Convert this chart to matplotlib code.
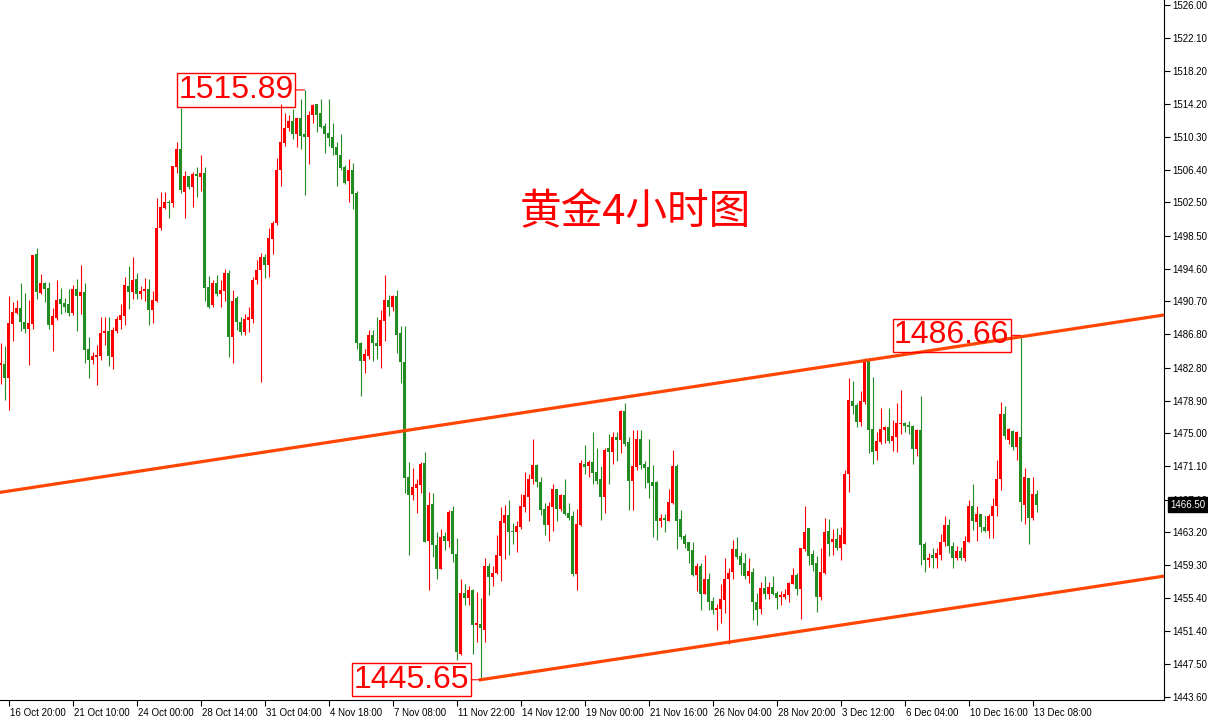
import numpy as np
import matplotlib
matplotlib.use("Agg")
import matplotlib.pyplot as plt
import matplotlib.transforms as mtransforms

# 黄金 4H K线 (红涨绿跌)
opens = [
    1483.1, 1483.2, 1481.6, 1488.0, 1489.3, 1489.9, 1488.2, 1487.4, 1488.0, 1496.3,
    1491.7, 1492.9, 1492.3, 1487.9, 1488.7, 1491.0, 1490.5, 1490.4, 1489.3, 1492.2,
    1491.3, 1491.8, 1485.0, 1483.7, 1484.1, 1484.2, 1487.0, 1487.2, 1484.1, 1487.2,
    1488.5, 1489.0, 1492.5, 1491.8, 1493.4, 1491.6, 1491.9, 1492.2, 1489.7, 1490.7,
    1499.4, 1501.8, 1502.6, 1502.4, 1506.7, 1508.8, 1503.7, 1505.6, 1504.3, 1505.9,
    1505.5, 1506.0, 1492.4, 1490.3, 1492.9, 1491.6, 1492.0, 1494.1, 1486.5, 1491.1,
    1488.3, 1487.1, 1488.5, 1488.6, 1493.2, 1494.4, 1496.0, 1495.0, 1498.1, 1500.0,
    1506.3, 1509.6, 1511.3, 1512.2, 1510.6, 1512.5, 1510.6, 1510.3, 1512.9, 1514.2,
    1513.1, 1511.6, 1510.8, 1510.3, 1509.1, 1508.2, 1506.7, 1505.0, 1506.4, 1503.6,
    1485.8, 1483.6, 1484.2, 1486.7, 1485.8, 1485.4, 1488.4, 1490.9, 1490.1, 1491.3,
    1486.9, 1483.5, 1469.8, 1467.6, 1468.5, 1468.9, 1471.5, 1462.2, 1466.6, 1461.7,
    1458.8, 1462.8, 1462.2, 1465.8, 1460.6, 1448.7, 1456.0, 1455.4, 1456.3, 1452.2,
    1452.3, 1451.6, 1459.2, 1457.9, 1458.4, 1460.4, 1464.3, 1465.3, 1463.4, 1463.3,
    1463.9, 1466.2, 1467.4, 1469.6, 1471.2, 1469.2, 1466.0, 1464.1, 1466.2, 1468.4,
    1466.0, 1467.7, 1465.5, 1465.2, 1458.3, 1464.1, 1471.4, 1471.1, 1471.6, 1470.4,
    1469.5, 1467.4, 1473.2, 1472.8, 1474.5, 1474.2, 1477.6, 1474.0, 1469.3, 1471.0,
    1474.3, 1471.4, 1471.0, 1469.2, 1469.2, 1464.5, 1464.9, 1464.6, 1466.7, 1471.1,
    1464.8, 1462.8, 1462.0, 1461.1, 1458.1, 1459.2, 1455.9, 1457.6, 1455.0, 1453.9,
    1454.1, 1455.2, 1457.6, 1458.5, 1461.2, 1460.4, 1459.5, 1458.0, 1458.5, 1454.9,
    1454.1, 1456.6, 1455.9, 1456.7, 1456.0, 1455.5, 1455.5, 1455.8, 1457.1, 1458.1,
    1456.4, 1461.2, 1463.7, 1460.6, 1459.5, 1455.5, 1458.4, 1463.4, 1462.0, 1462.4,
    1461.4, 1461.8, 1470.2, 1478.9, 1478.4, 1476.4, 1478.7, 1483.7, 1475.5, 1472.9,
    1474.0, 1475.4, 1475.8, 1474.1, 1474.6, 1476.1, 1476.2, 1476.0, 1475.9, 1473.1,
    1475.4, 1461.8, 1459.9, 1460.5, 1460.2, 1460.5, 1462.1, 1464.1, 1461.6, 1460.1,
    1461.0, 1460.1, 1462.1, 1466.4, 1464.4, 1465.4, 1463.9, 1463.4, 1465.1, 1466.3,
    1469.5, 1477.3, 1474.2, 1475.3, 1473.4, 1474.6, 1466.5, 1469.7, 1464.9, 1467.8,
]
highs = [
    1485.7, 1485.4, 1491.4, 1490.6, 1490.9, 1492.9, 1491.7, 1490.9, 1496.2, 1497.1,
    1494.0, 1493.0, 1493.0, 1489.9, 1493.2, 1492.3, 1491.1, 1492.2, 1492.7, 1493.4,
    1495.0, 1492.9, 1486.5, 1484.7, 1485.5, 1488.8, 1488.8, 1488.8, 1487.7, 1489.0,
    1490.4, 1493.6, 1494.9, 1496.0, 1494.1, 1492.5, 1493.5, 1493.4, 1491.9, 1503.0,
    1503.7, 1503.7, 1502.8, 1506.8, 1509.7, 1513.7, 1506.2, 1505.7, 1506.1, 1506.7,
    1508.1, 1506.7, 1493.7, 1493.3, 1493.9, 1493.3, 1494.6, 1494.5, 1492.1, 1491.4,
    1488.9, 1489.2, 1490.0, 1493.6, 1495.6, 1496.5, 1496.4, 1499.5, 1500.3, 1507.8,
    1514.2, 1513.2, 1512.9, 1513.6, 1512.5, 1514.8, 1515.89, 1513.4, 1514.2, 1514.2,
    1514.8, 1512.0, 1514.8, 1512.0, 1509.7, 1510.7, 1507.0, 1507.7, 1507.2, 1503.8,
    1485.9, 1485.0, 1487.3, 1487.3, 1488.8, 1489.7, 1493.9, 1491.5, 1491.5, 1492.1,
    1487.8, 1487.8, 1471.6, 1470.9, 1469.5, 1471.6, 1472.8, 1468.0, 1467.9, 1463.2,
    1463.6, 1463.3, 1465.9, 1466.4, 1462.5, 1457.6, 1457.1, 1456.8, 1456.4, 1456.1,
    1455.4, 1460.2, 1459.5, 1459.2, 1462.9, 1466.2, 1466.5, 1467.0, 1464.3, 1464.6,
    1467.8, 1470.4, 1470.2, 1474.3, 1471.4, 1469.8, 1466.7, 1466.8, 1469.0, 1468.4,
    1467.8, 1469.5, 1466.7, 1465.8, 1466.0, 1471.8, 1473.6, 1471.8, 1475.2, 1473.2,
    1471.1, 1473.2, 1474.9, 1475.1, 1475.2, 1477.8, 1478.6, 1474.5, 1475.4, 1475.4,
    1475.4, 1471.7, 1474.3, 1471.2, 1469.3, 1465.4, 1465.4, 1468.4, 1473.0, 1471.4,
    1465.9, 1463.0, 1462.0, 1462.0, 1459.6, 1459.5, 1460.5, 1458.4, 1455.5, 1454.7,
    1457.0, 1460.1, 1458.9, 1462.3, 1462.7, 1460.9, 1460.8, 1460.2, 1458.9, 1456.0,
    1457.3, 1458.0, 1457.3, 1458.0, 1456.2, 1456.2, 1456.4, 1457.3, 1459.0, 1458.4,
    1461.4, 1466.4, 1463.7, 1461.1, 1460.4, 1461.4, 1464.9, 1464.8, 1463.6, 1463.7,
    1463.9, 1470.6, 1481.6, 1481.2, 1478.6, 1480.0, 1484.0, 1484.0, 1481.7, 1475.2,
    1478.0, 1475.9, 1478.0, 1476.6, 1478.6, 1480.2, 1476.4, 1476.5, 1476.0, 1475.5,
    1479.5, 1462.0, 1460.7, 1461.3, 1461.3, 1463.0, 1465.2, 1464.8, 1462.0, 1461.6,
    1461.5, 1462.8, 1467.1, 1469.0, 1466.4, 1465.4, 1465.1, 1465.4, 1467.3, 1471.8,
    1478.7, 1478.3, 1475.6, 1475.4, 1475.3, 1486.66, 1470.9, 1469.7, 1469.8, 1468.3,
]
lows = [
    1480.9, 1479.0, 1477.8, 1486.0, 1489.2, 1487.2, 1486.9, 1483.1, 1487.4, 1491.0,
    1491.6, 1490.6, 1487.4, 1484.8, 1488.5, 1489.2, 1489.4, 1489.0, 1489.1, 1487.2,
    1489.2, 1483.4, 1481.6, 1483.2, 1480.7, 1483.7, 1485.5, 1483.0, 1482.6, 1486.9,
    1487.4, 1487.9, 1489.8, 1491.0, 1491.0, 1491.0, 1490.7, 1487.9, 1488.1, 1490.6,
    1499.2, 1501.7, 1500.6, 1502.0, 1506.0, 1503.6, 1500.6, 1504.1, 1501.9, 1503.1,
    1503.8, 1490.7, 1489.9, 1490.0, 1491.3, 1490.1, 1490.8, 1484.1, 1483.4, 1487.3,
    1486.7, 1486.7, 1487.1, 1488.1, 1492.8, 1481.1, 1493.5, 1493.6, 1496.3, 1499.8,
    1504.5, 1509.2, 1511.0, 1510.1, 1509.1, 1508.8, 1503.4, 1507.1, 1512.0, 1510.9,
    1511.3, 1508.4, 1509.2, 1508.1, 1504.5, 1506.4, 1504.7, 1502.5, 1501.7, 1485.0,
    1479.4, 1482.2, 1483.8, 1483.6, 1483.9, 1482.8, 1486.0, 1489.0, 1489.6, 1484.6,
    1481.0, 1467.9, 1460.5, 1467.0, 1465.5, 1467.9, 1462.1, 1456.3, 1460.3, 1457.7,
    1458.8, 1461.1, 1461.5, 1459.7, 1448.0, 1448.6, 1454.5, 1454.6, 1448.7, 1450.2,
    1445.65, 1450.2, 1455.8, 1456.8, 1458.3, 1457.4, 1460.0, 1460.5, 1461.8, 1460.9,
    1463.6, 1465.6, 1464.6, 1469.0, 1468.6, 1465.3, 1462.9, 1462.2, 1463.4, 1464.6,
    1465.8, 1465.3, 1464.7, 1458.0, 1456.3, 1464.0, 1470.2, 1469.8, 1469.0, 1469.0,
    1464.7, 1465.5, 1469.0, 1471.4, 1471.7, 1472.6, 1473.5, 1465.9, 1465.9, 1470.6,
    1470.8, 1468.5, 1467.3, 1462.7, 1462.3, 1463.9, 1463.3, 1464.5, 1466.6, 1461.2,
    1462.4, 1461.4, 1459.5, 1458.0, 1456.2, 1453.9, 1455.9, 1453.9, 1453.5, 1451.6,
    1452.4, 1453.6, 1449.9, 1457.7, 1460.0, 1458.1, 1457.7, 1457.2, 1452.8, 1452.2,
    1453.5, 1455.3, 1455.3, 1455.8, 1454.1, 1454.6, 1455.3, 1454.9, 1457.0, 1455.8,
    1452.9, 1461.0, 1459.3, 1458.6, 1453.7, 1455.2, 1458.3, 1460.4, 1460.5, 1461.1,
    1459.9, 1461.8, 1468.0, 1477.3, 1475.8, 1475.9, 1478.5, 1472.7, 1471.4, 1471.8,
    1473.7, 1473.9, 1473.9, 1472.9, 1472.8, 1474.9, 1475.2, 1474.9, 1471.4, 1472.3,
    1459.3, 1458.5, 1459.1, 1458.9, 1458.9, 1459.9, 1461.6, 1460.8, 1459.0, 1459.9,
    1459.9, 1459.8, 1462.0, 1463.5, 1462.2, 1463.2, 1463.3, 1462.5, 1462.5, 1465.1,
    1468.3, 1474.3, 1473.7, 1473.0, 1471.8, 1464.6, 1464.2, 1461.8, 1464.7, 1465.6,
]
closes = [
    1483.4, 1481.6, 1488.1, 1489.4, 1489.9, 1488.2, 1487.4, 1488.1, 1496.2, 1491.8,
    1492.9, 1492.2, 1487.9, 1489.0, 1490.9, 1490.4, 1490.1, 1489.3, 1492.2, 1491.3,
    1491.8, 1484.9, 1483.7, 1484.2, 1484.3, 1487.0, 1487.2, 1484.2, 1487.3, 1488.6,
    1489.1, 1492.7, 1491.8, 1493.2, 1491.6, 1492.0, 1492.2, 1489.7, 1490.9, 1499.5,
    1501.9, 1502.6, 1502.4, 1506.8, 1508.8, 1504.0, 1505.6, 1504.3, 1505.9, 1505.6,
    1506.0, 1492.3, 1490.1, 1492.9, 1491.6, 1492.1, 1494.1, 1486.5, 1490.8, 1488.2,
    1487.1, 1488.6, 1488.8, 1493.3, 1494.5, 1496.0, 1495.0, 1498.2, 1500.1, 1506.4,
    1509.7, 1511.3, 1512.2, 1510.6, 1512.5, 1510.4, 1510.3, 1512.9, 1514.1, 1512.9,
    1511.5, 1510.7, 1510.2, 1509.0, 1508.1, 1506.6, 1504.8, 1506.4, 1503.5, 1485.7,
    1483.6, 1484.4, 1486.7, 1485.8, 1485.4, 1488.5, 1490.9, 1490.1, 1491.3, 1486.7,
    1483.5, 1469.7, 1467.6, 1468.6, 1469.0, 1471.4, 1462.1, 1466.5, 1461.7, 1458.8,
    1462.7, 1462.2, 1465.6, 1460.6, 1448.9, 1456.0, 1455.4, 1456.3, 1452.2, 1452.4,
    1451.8, 1459.2, 1457.9, 1458.4, 1460.5, 1464.5, 1465.3, 1463.3, 1463.3, 1464.0,
    1466.4, 1467.6, 1469.5, 1471.2, 1469.2, 1465.9, 1464.1, 1466.4, 1468.4, 1466.0,
    1467.7, 1465.4, 1464.9, 1458.3, 1464.2, 1471.5, 1471.0, 1471.6, 1470.3, 1469.3,
    1467.4, 1473.0, 1472.8, 1474.5, 1474.2, 1477.7, 1473.7, 1469.3, 1471.1, 1474.3,
    1471.2, 1470.9, 1469.1, 1468.7, 1464.5, 1464.9, 1464.7, 1466.8, 1471.1, 1464.6,
    1462.7, 1461.8, 1461.0, 1458.1, 1459.2, 1455.9, 1457.7, 1454.9, 1453.9, 1454.2,
    1455.3, 1457.7, 1458.4, 1461.2, 1460.3, 1459.3, 1458.0, 1458.6, 1454.9, 1454.0,
    1456.6, 1455.9, 1456.7, 1455.9, 1455.4, 1455.8, 1455.9, 1457.2, 1458.1, 1456.4,
    1461.4, 1463.3, 1460.4, 1459.3, 1455.5, 1458.5, 1463.3, 1461.8, 1462.4, 1461.4,
    1462.9, 1470.2, 1479.0, 1478.3, 1476.4, 1478.9, 1483.6, 1475.4, 1472.8, 1474.1,
    1475.5, 1475.8, 1474.1, 1474.7, 1476.2, 1476.2, 1475.9, 1475.8, 1473.1, 1475.4,
    1461.7, 1459.9, 1460.1, 1460.1, 1460.7, 1462.1, 1464.1, 1461.6, 1460.1, 1461.0,
    1460.1, 1462.2, 1466.4, 1464.5, 1465.4, 1463.8, 1463.4, 1465.2, 1466.4, 1469.5,
    1477.3, 1474.7, 1475.5, 1473.4, 1475.2, 1466.8, 1469.8, 1464.9, 1467.8, 1466.5,
]

# 横轴刻度（K线序号）与标签
tick_bars = [2, 18, 34, 50, 66, 82, 98, 114, 130, 146, 162, 178, 194, 210, 226, 242, 258]
tick_labels = ["16 Oct 20:00", "21 Oct 10:00", "24 Oct 00:00", "28 Oct 14:00",
               "31 Oct 04:00", "4 Nov 18:00", "7 Nov 08:00", "11 Nov 22:00",
               "14 Nov 12:00", "19 Nov 00:00", "21 Nov 16:00", "26 Nov 04:00",
               "28 Nov 20:00", "3 Dec 12:00", "6 Dec 04:00", "10 Dec 16:00",
               "13 Dec 08:00"]
price_ticks = [1526.00, 1522.10, 1518.20, 1514.20, 1510.30, 1506.40, 1502.50,
               1498.50, 1494.60, 1490.70, 1486.80, 1482.80, 1478.90, 1475.00,
               1471.10, 1467.10, 1463.20, 1459.30, 1455.40, 1451.40, 1447.50,
               1443.60]

# 通道线（端点：K线序号，价格）
upper_line_x = [-1, 291]
upper_line_y = [1467.9, 1489.1]
lower_line_x = [120, 291]
lower_line_y = [1445.65, 1458.0]

# 标注的高低点
high_mark_bars = [76, 255]
low_mark_bars = [120]
last_price = 1466.50
title = "黄金4小时图"

UP = "#ff0000"
DOWN = "#228b22"
LINE = "#ff4500"

plt.rcParams["font.family"] = ["Liberation Sans", "DejaVu Sans"]

fig = plt.figure(figsize=(12.08, 7.21), dpi=100)
ax = fig.add_axes([0, 21 / 721, 1164 / 1208, 700 / 721])

o = np.array(opens)
h = np.array(highs)
l = np.array(lows)
c = np.array(closes)
x = np.arange(len(o))
colors = np.where(c >= o, UP, DOWN)

ax.vlines(x, l, h, colors=colors, lw=0.8, zorder=2)
body_lo = np.minimum(o, c)
body_h = np.maximum(np.abs(c - o), 0.12)
ax.bar(x, body_h, 0.75, bottom=body_lo, color=colors, linewidth=0, zorder=2)

ax.plot(upper_line_x, upper_line_y, color=LINE, lw=2.3, zorder=3)
ax.plot(lower_line_x, lower_line_y, color=LINE, lw=2.3, zorder=3)

# 价格标注框
marks = [(i, h[i]) for i in high_mark_bars] + [(i, l[i]) for i in low_mark_bars]
for i, p in marks:
    ax.annotate(f"{p:.2f}", xy=(i, p), xytext=(-11, 0), textcoords="offset pixels",
                ha="right", va="center", fontsize=23, color="red",
                bbox=dict(boxstyle="square,pad=0.05", fc="none", ec="red", lw=1),
                arrowprops=dict(arrowstyle="-", color="red", lw=0.8,
                                shrinkA=0, shrinkB=0),
                zorder=5, annotation_clip=False)

ax.text(635 / 1164, 1 - 213 / 700, title, transform=ax.transAxes,
        ha="center", va="center", fontsize=30, color="red",
        family=["Noto Sans CJK SC", "DejaVu Sans"])

ax.set_xlim(-0.125, -0.125 + 1164 / 4)
ax.set_ylim(1443.24, 1526.6)

for s in ["left", "top"]:
    ax.spines[s].set_visible(False)
for s in ["right", "bottom"]:
    ax.spines[s].set_linewidth(0.8)
    ax.spines[s].set_color("black")

ax.yaxis.tick_right()
ax.set_yticks(price_ticks)
ax.set_yticklabels([f"{v:.2f}" for v in price_ticks])
ax.tick_params(axis="y", direction="out", length=4, width=0.8, pad=2, labelsize=7)

ax.set_xticks(tick_bars)
ax.set_xticklabels(tick_labels)
ax.tick_params(axis="x", direction="out", length=4, width=0.8, pad=2, labelsize=7)
shift = mtransforms.ScaledTranslation(2 / 100, 0, fig.dpi_scale_trans)
for lbl in ax.get_xticklabels():
    lbl.set_horizontalalignment("left")
    lbl.set_transform(lbl.get_transform() + shift)

# 当前价
trans = mtransforms.blended_transform_factory(ax.transAxes, ax.transData)
ax.annotate(f"{last_price:.2f}", xy=(1.0, last_price), xycoords=trans,
            xytext=(6, 0), textcoords="offset pixels", ha="left", va="center",
            fontsize=7, color="white",
            bbox=dict(boxstyle="square,pad=0.25", fc="black", ec="black"),
            zorder=6, annotation_clip=False)

fig.savefig("out.png", dpi=100, facecolor="white")
